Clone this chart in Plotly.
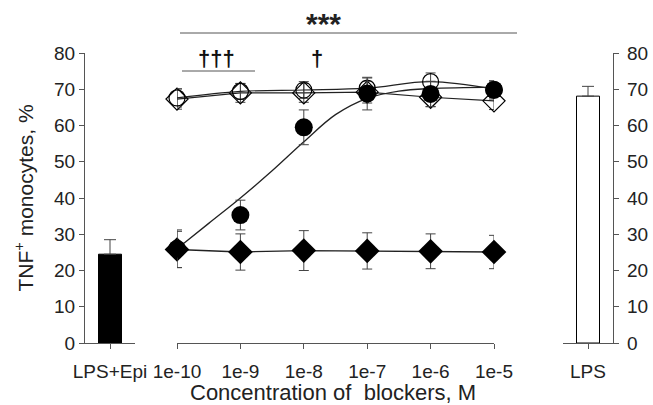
import plotly.graph_objects as go

W, H = 653, 405

conc = [1e-10, 1e-9, 1e-8, 1e-7, 1e-6, 1e-5]
tick_labels = ["1e-10", "1e-9", "1e-8", "1e-7", "1e-6", "1e-5"]

filled_circle = [26.0, 35.3, 59.5, 68.8, 68.7, 69.8]
filled_circle_err = [5.2, 4.1, 4.8, 4.5, 3.5, 2.5]
open_circle = [67.6, 69.4, 69.8, 70.3, 72.1, 70.0]
open_circle_err = [2.5, 2.2, 2.3, 2.8, 2.4, 2.3]
open_diamond = [67.3, 69.0, 69.0, 69.2, 67.8, 66.8]
open_diamond_err = [2.8, 2.6, 2.6, 3.0, 2.6, 2.4]
filled_diamond = [25.8, 25.1, 25.5, 25.4, 25.3, 25.1]
filled_diamond_err = [5.0, 5.0, 5.5, 5.0, 4.8, 4.6]

# fitted curve of filled circles
fit_x = [1e-10, 10**-9.5, 1e-9, 10**-8.5, 1e-8, 10**-7.5, 1e-7, 10**-6.5, 1e-6, 1e-5]
fit_y = [26.0, 33.0, 40.0, 47.5, 55.5, 63.0, 67.5, 69.5, 70.2, 70.6]

bar_left_label = ["LPS+Epi"]
bar_left_val = [24.5]
bar_left_err = [4.0]
bar_right_label = ["LPS"]
bar_right_val = [68.1]
bar_right_err = [2.7]

def px(v):
    return v / W

def py(v):
    return 1 - (v - 53) / (343 - 53)

fig = go.Figure()
line_col = "#222222"
err_col = "#444444"
font = "Liberation Sans, Arial, sans-serif"

fig.add_trace(go.Bar(x=bar_left_label, y=bar_left_val, xaxis="x", yaxis="y",
                     marker=dict(color="black", line=dict(color="black", width=1)),
                     width=0.46,
                     error_y=dict(type="data", array=bar_left_err, arrayminus=[0],
                                  color=err_col, thickness=1, width=6)))
fig.add_trace(go.Bar(x=bar_right_label, y=bar_right_val, xaxis="x3", yaxis="y3",
                     marker=dict(color="white", line=dict(color="black", width=1)),
                     width=0.46,
                     error_y=dict(type="data", array=bar_right_err, arrayminus=[0],
                                  color=err_col, thickness=1, width=6)))

fig.add_trace(go.Scatter(x=fit_x, y=fit_y, xaxis="x2", yaxis="y2", mode="lines",
                         line=dict(color=line_col, width=1.3, shape="spline"),
                         cliponaxis=False))
fig.add_trace(go.Scatter(x=conc, y=open_diamond, xaxis="x2", yaxis="y2", mode="lines+markers",
                         line=dict(color=line_col, width=1.2),
                         marker=dict(symbol="diamond-open", size=17, color="black",
                                     line=dict(width=1.2, color="black")),
                         error_y=dict(type="data", array=open_diamond_err, color=err_col,
                                      thickness=1, width=5),
                         cliponaxis=False))
fig.add_trace(go.Scatter(x=conc, y=open_circle, xaxis="x2", yaxis="y2", mode="lines+markers",
                         line=dict(color=line_col, width=1.2, shape="spline"),
                         marker=dict(symbol="circle-open", size=16, color="black",
                                     line=dict(width=1.2, color="black")),
                         error_y=dict(type="data", array=open_circle_err, color=err_col,
                                      thickness=1, width=5),
                         cliponaxis=False))
fig.add_trace(go.Scatter(x=conc, y=filled_diamond, xaxis="x2", yaxis="y2", mode="lines+markers",
                         line=dict(color=line_col, width=1.3),
                         marker=dict(symbol="diamond", size=19, color="black"),
                         error_y=dict(type="data", array=filled_diamond_err, color=err_col,
                                      thickness=1, width=5),
                         cliponaxis=False))
fig.add_trace(go.Scatter(x=conc, y=filled_circle, xaxis="x2", yaxis="y2", mode="markers",
                         marker=dict(symbol="circle", size=18, color="black"),
                         error_y=dict(type="data", array=filled_circle_err, color=err_col,
                                      thickness=1, width=5),
                         cliponaxis=False))

tickfont = dict(family=font, size=19, color="#222222")
yticks = list(range(0, 81, 10))
axcol = "#555555"

common = dict(showline=True, linecolor=axcol, linewidth=1.2, ticks="outside", ticklen=5,
              tickcolor=axcol, tickfont=tickfont, showgrid=False, zeroline=False,
              automargin=False, fixedrange=True)

fig.update_layout(
    width=W, height=H, showlegend=False,
    paper_bgcolor="white", plot_bgcolor="white",
    margin=dict(l=0, r=0, t=53, b=62, autoexpand=False),
    font=dict(family=font, color="#222222"),
    xaxis=dict(domain=[px(85), px(135)], ticklabelstandoff=6, anchor="y", **common),
    yaxis=dict(range=[0, 80], tickvals=yticks, anchor="x",
               title=dict(text="TNF<sup>+</sup> monocytes, %", font=dict(family=font, size=21),
                          standoff=14), **common),
    xaxis2=dict(domain=[px(177), px(494)], type="log", range=[-10, -5],
                tickvals=conc, ticktext=tick_labels, ticklabelstandoff=6, anchor="y2",
                **common),
    yaxis2=dict(range=[0, 80], visible=False, anchor="x2", overlaying="y", fixedrange=True),
    xaxis3=dict(domain=[px(563), px(613)], ticklabelstandoff=6, anchor="y3", **common),
    yaxis3=dict(range=[0, 80], tickvals=yticks, side="right", anchor="x3", overlaying="y",
                ticklabelstandoff=4, **common),
)

fig.add_annotation(text="Concentration of  blockers, M", xref="paper", yref="paper",
                   x=px(333), y=py(392), yanchor="middle", xanchor="center",
                   showarrow=False, font=dict(family=font, size=22, color="#222222"))
fig.add_shape(type="line", xref="paper", yref="paper", x0=px(180), x1=px(517),
              y0=py(33), y1=py(33), line=dict(color="#555555", width=1))
fig.add_annotation(text="<b>***</b>", xref="paper", yref="paper", x=px(323), y=py(24),
                   yanchor="middle", xanchor="center",
                   showarrow=False, font=dict(family=font, size=30, color="#222222"))
fig.add_shape(type="line", xref="paper", yref="paper", x0=px(182), x1=px(255),
              y0=py(71), y1=py(71), line=dict(color="#555555", width=1))
fig.add_annotation(text="<b>†††</b>", xref="paper", yref="paper", x=px(216), y=py(58),
                   yanchor="middle", xanchor="center",
                   showarrow=False, font=dict(family=font, size=22, color="#111111"))
fig.add_annotation(text="<b>†</b>", xref="paper", yref="paper", x=px(317), y=py(58),
                   yanchor="middle", xanchor="center",
                   showarrow=False, font=dict(family=font, size=22, color="#111111"))

fig.write_html("out.html", config={"displayModeBar": False},
               post_script="document.body.style.margin='0px';")
